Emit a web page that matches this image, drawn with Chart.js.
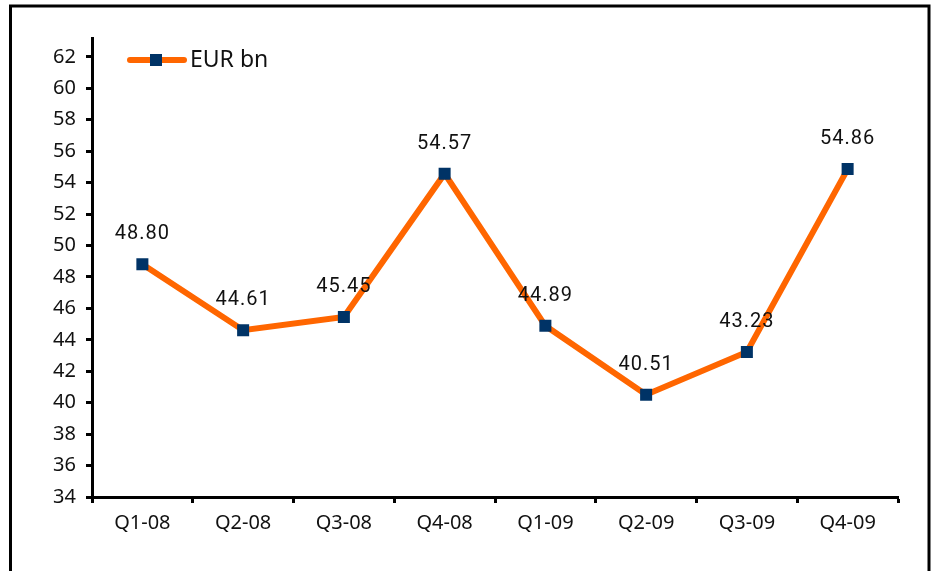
<!DOCTYPE html>
<html>
<head>
<meta charset="utf-8">
<script src="https://cdn.jsdelivr.net/npm/chart.js@4"></script>
<style>
    html, body { margin: 0; padding: 0; background: #fff; overflow: hidden; }
    #wrap { position: relative; width: 933px; height: 571px; }
</style>
</head>
<body>
<div id="wrap"><canvas id="revenue-chart"></canvas></div>
<script>
// Quarterly values, EUR bn
const quarters = ['Q1-08', 'Q2-08', 'Q3-08', 'Q4-08', 'Q1-09', 'Q2-09', 'Q3-09', 'Q4-09'];
const eurBn = [48.80, 44.61, 45.45, 54.57, 44.89, 40.51, 43.23, 54.86];
const yTicks = [34, 36, 38, 40, 42, 44, 46, 48, 50, 52, 54, 56, 58, 60, 62];
const seriesLabel = 'EUR bn';

const lineColor = '#ff6600';
const markerColor = '#003366';
const axisFont = { family: 'Noto Sans', size: 20 };

// Outer frame around the chart
const framePlugin = {
    id: 'frame',
    beforeDraw(chart) {
        const ctx = chart.ctx;
        ctx.save();
        ctx.fillStyle = '#fff';
        ctx.fillRect(0, 0, chart.width, chart.height);
        ctx.strokeStyle = '#000';
        ctx.lineWidth = 3;
        ctx.strokeRect(10.5, 6, 918.5, 620);
        ctx.restore();
    }
};

// Value labels above each point and legend inside the plot
const labelPlugin = {
    id: 'valueLabels',
    afterDatasetsDraw(chart) {
        const ctx = chart.ctx;
        const meta = chart.getDatasetMeta(0);
        ctx.save();
        ctx.fillStyle = '#111';
        ctx.font = '20px Roboto';
        ctx.letterSpacing = '1px';
        ctx.textAlign = 'center';
        ctx.textBaseline = 'middle';
        meta.data.forEach((pt, i) => {
            ctx.fillText(eurBn[i].toFixed(2), pt.x, pt.y - 30);
        });
        ctx.letterSpacing = '0px';

        // legend: line with square marker, then label
        const ds = chart.data.datasets[0];
        const lx = 128, ly = 60;
        ctx.strokeStyle = ds.borderColor;
        ctx.lineWidth = 6;
        ctx.lineCap = 'round';
        ctx.beginPath();
        ctx.moveTo(lx + 2, ly);
        ctx.lineTo(lx + 56, ly);
        ctx.stroke();
        ctx.fillStyle = ds.pointBackgroundColor;
        ctx.fillRect(lx + 22, ly - 6, 12, 12);
        ctx.fillStyle = '#111';
        ctx.font = '23px "Noto Sans"';
        ctx.textAlign = 'left';
        ctx.fillText(ds.label, lx + 62, ly);
        ctx.restore();
    }
};

const ctx = document.getElementById('revenue-chart').getContext('2d');

new Chart(ctx, {
    type: 'line',
    data: {
        labels: quarters,
        datasets: [{
            label: seriesLabel,
            data: eurBn,
            borderColor: lineColor,
            borderWidth: 6,
            pointStyle: 'rect',
            pointRadius: 8.5,
            pointBackgroundColor: markerColor,
            pointBorderColor: markerColor,
            pointBorderWidth: 0,
            tension: 0
        }]
    },
    options: {
        responsive: true,
        maintainAspectRatio: false,
        animation: false,
        layout: { padding: { top: 38, right: 35, bottom: 0, left: 0 } },
        scales: {
            x: {
                offset: true,
                grid: {
                    offset: true,
                    drawOnChartArea: false,
                    drawTicks: true,
                    tickLength: 6,
                    tickWidth: 3,
                    tickColor: '#000'
                },
                border: { display: true, color: '#000', width: 3 },
                ticks: { color: '#111', font: axisFont, padding: 8, maxRotation: 0 },
                afterFit: s => { s.height = 74; }
            },
            y: {
                min: 34,
                max: 63.2,
                grid: {
                    drawOnChartArea: false,
                    drawTicks: true,
                    tickLength: 6,
                    tickWidth: 3,
                    tickColor: '#000'
                },
                border: { display: true, color: '#000', width: 3 },
                ticks: { color: '#111', font: axisFont, padding: 10 },
                afterBuildTicks: s => { s.ticks = yTicks.map(v => ({ value: v })); },
                afterFit: s => { s.width = 92; }
            }
        },
        plugins: {
            legend: { display: false },
            tooltip: { enabled: false }
        }
    },
    plugins: [framePlugin, labelPlugin]
});
</script>
</body>
</html>
